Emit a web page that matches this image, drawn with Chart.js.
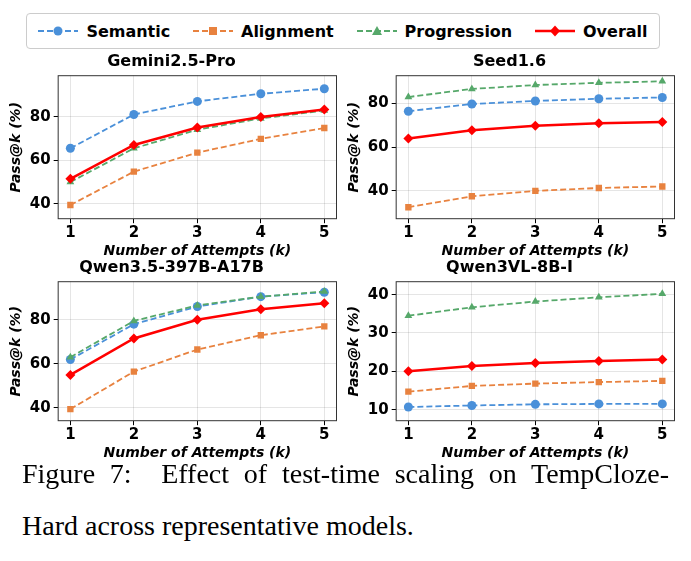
<!DOCTYPE html>
<html><head><meta charset="utf-8">
<script src="https://cdn.jsdelivr.net/npm/chart.js@4/dist/chart.umd.min.js"></script>
<style>
body{margin:0;background:#fff;width:691px;height:561px;position:relative;overflow:hidden;font-family:"DejaVu Sans",sans-serif}
.box{position:absolute}
#legend{position:absolute;left:26px;top:13px;width:632px;height:34px;border:1px solid #ccc;border-radius:4px;display:flex;align-items:center;justify-content:space-around;font-weight:bold;font-size:16px}
#legend span{display:flex;align-items:center;gap:8px}
.cap{position:absolute;left:22px;width:647px;font-family:"Liberation Serif",serif;font-size:28px;white-space:nowrap}
</style></head><body>
<div id="legend"></div>
<div class="box" style="left:6px;top:52px;width:339px;height:208px"><canvas id="c0"></canvas></div>
<div class="box" style="left:344px;top:52px;width:339px;height:208px"><canvas id="c1"></canvas></div>
<div class="box" style="left:6px;top:258px;width:339px;height:204px"><canvas id="c2"></canvas></div>
<div class="box" style="left:344px;top:258px;width:339px;height:204px"><canvas id="c3"></canvas></div>
<div class="cap" style="top:458px;text-align:justify;text-align-last:justify">Figure 7: &nbsp;Effect of test-time scaling on TempCloze-</div>
<div class="cap" style="top:510px">Hard across representative models.</div>
<script>
const attempts = [1, 2, 3, 4, 5];
const seriesNames = ['Semantic', 'Alignment', 'Progression', 'Overall'];
const titles = ['Gemini2.5-Pro', 'Seed1.6', 'Qwen3.5-397B-A17B', 'Qwen3VL-8B-I'];

const gemini = [
    [65.5, 81, 87, 90.5, 92.8],
    [39.5, 54.8, 63.5, 69.8, 74.8],
    [50, 65.5, 74, 79.2, 82.8],
    [51.5, 67, 75, 79.8, 83.3]
];
const seed = [
    [76.5, 79.8, 81.2, 82.2, 82.8],
    [32.5, 37.5, 40, 41.3, 42],
    [83, 86.7, 88.5, 89.5, 90.2],
    [64, 67.8, 69.8, 71, 71.6]
];
const qwen35 = [
    [62, 78, 86, 90.5, 92.5],
    [39.5, 56.5, 66.5, 73, 77],
    [63, 79.5, 86.5, 90.5, 92.8],
    [55, 71.5, 80, 84.8, 87.5]
];
const qwen3vl = [
    [10.7, 11.1, 11.4, 11.5, 11.5],
    [14.7, 16.2, 16.8, 17.2, 17.5],
    [34.5, 36.7, 38.2, 39.3, 40.2],
    [20, 21.4, 22.2, 22.7, 23.1]
];
const yRanges = [[33, 99], [27, 93], [34, 97.5], [7, 43.5]];
const yTicks = [[40, 60, 80], [40, 60, 80], [40, 60, 80], [10, 20, 30, 40]];

const colors = ['#4a90d9', '#e8823f', '#56a86a', '#ff0000'];
const shapes = ['circle', 'rect', 'triangle', 'rectRot'];

// HTML legend
const svgs = [
    '<circle cx="20" cy="8" r="4.5" fill="#4a90d9"/>',
    '<rect x="16" y="4" width="8" height="8" fill="#e8823f"/>',
    '<polygon points="20,3 25,12 15,12" fill="#56a86a"/>',
    '<polygon points="20,2.5 25,8 20,13.5 15,8" fill="#ff0000"/>'
];
document.getElementById('legend').innerHTML = seriesNames.map((n, i) =>
    `<span><svg width="40" height="16"><line x1="0" y1="8" x2="40" y2="8" stroke="${colors[i]}" stroke-width="${i == 3 ? 2.5 : 2}" ${i == 3 ? '' : 'stroke-dasharray="6,3"'}/>${svgs[i]}</svg>${n}</span>`
).join('');

const font = { family: "'DejaVu Sans', sans-serif", weight: 'bold', size: 15 };
const all = [gemini, seed, qwen35, qwen3vl];

// full frame around the plot area
const frame = {
    id: 'frame',
    afterDraw(chart) {
        const { ctx, chartArea: a } = chart;
        ctx.save();
        ctx.strokeStyle = '#333';
        ctx.lineWidth = 1;
        ctx.strokeRect(a.left + 0.5, a.top + 0.5, a.width - 1, a.height - 1);
        ctx.restore();
    }
};

all.forEach((data, idx) => {
    new Chart(document.getElementById('c' + idx), {
        type: 'line',
        data: {
            datasets: data.map((vals, i) => ({
                label: seriesNames[i],
                data: vals.map((v, j) => ({ x: attempts[j], y: v })),
                borderColor: colors[i],
                backgroundColor: colors[i],
                borderWidth: i == 3 ? 2.5 : 1.8,
                borderDash: i == 3 ? [] : [6, 3],
                pointStyle: shapes[i],
                pointRadius: i == 3 ? 5 : 4.5,
                pointBorderWidth: 0,
                order: 3 - i
            }))
        },
        options: {
            responsive: true,
            maintainAspectRatio: false,
            animation: false,
            layout: { padding: { right: 8 } },
            plugins: {
                legend: { display: false },
                tooltip: { enabled: false },
                title: { display: true, text: titles[idx], color: '#000', font: { ...font, size: 16 }, padding: { top: 0, bottom: 4 } }
            },
            scales: {
                x: {
                    type: 'linear', min: 0.8, max: 5.2,
                    afterBuildTicks: ax => { ax.ticks = attempts.map(v => ({ value: v })); },
                    ticks: { color: '#000', font, padding: 1 },
                    grid: { color: 'rgba(0,0,0,0.1)', tickLength: 4, tickColor: '#000' },
                    border: { display: false },
                    title: { display: true, text: 'Number of Attempts (k)', color: '#000', font: { ...font, size: 14, style: 'italic' }, padding: 0 }
                },
                y: {
                    min: yRanges[idx][0], max: yRanges[idx][1],
                    afterBuildTicks: ax => { ax.ticks = yTicks[idx].map(v => ({ value: v })); },
                    ticks: { color: '#000', font, padding: 3 },
                    grid: { color: 'rgba(0,0,0,0.1)', tickLength: 4, tickColor: '#000' },
                    border: { display: false },
                    title: { display: true, text: 'Pass@k (%)', color: '#000', font: { ...font, size: 14, style: 'italic' }, padding: 2 }
                }
            }
        },
        plugins: [frame]
    });
});
</script>
</body></html>
